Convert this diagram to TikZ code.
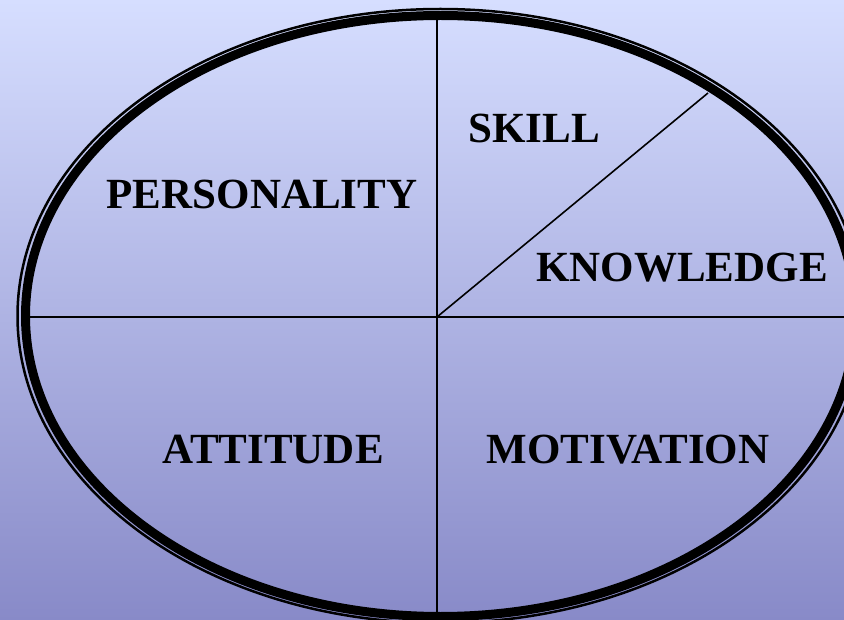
\documentclass[tikz,border=0pt]{standalone}
\usepackage{fontspec}
\setmainfont{Liberation Serif}
\usetikzlibrary{positioning}
\definecolor{bgtop}{RGB}{214,222,255}
\definecolor{bgbottom}{RGB}{136,138,200}
\tikzset{label/.style = {font=\fontsize{43}{50}\selectfont\bfseries, inner sep=0pt}}
\tikzset{divider/.style = {draw, line width=1.6pt}}
\begin{document}
\begin{tikzpicture}[x=1pt, y=-1pt]

    % Background
    \useasboundingbox (0,0) rectangle (844,620);
    \shade[top color=bgtop, bottom color=bgbottom] (0,0) rectangle (844,620);

    % Place helper coordinates
    \coordinate (centre) at (437,317);
    \coordinate (top) at (437,12);
    \coordinate (bottom) at (437,620);
    \coordinate (left) at (25,317);
    \coordinate (right) at (844,317);
    \coordinate (rim) at (708,93);

    % Draw dividers
    \path [divider] (top) -- (bottom);
    \path [divider] (left) -- (right);
    \path [divider] (centre) -- (rim);

    % Draw the ring
    \begin{scope}
      \clip (0,0) rectangle (844,620);
      \draw [line width=9pt] (440.5,316) ellipse [x radius=415, y radius=300.5];
      \draw [line width=2.5pt] (440.5,316) ellipse [x radius=423, y radius=307];
    \end{scope}

    % Place labels
    \node [label] (skill) at (534,128) {SKILL};
    \node [label] (personality) at (262,194) {PERSONALITY};
    \node [label] (knowledge) at (682,268) {KNOWLEDGE};
    \node [label] (attitude) at (273,450) {ATTITUDE};
    \node [label] (motivation) at (628,450) {MOTIVATION};
\end{tikzpicture}
\end{document}
